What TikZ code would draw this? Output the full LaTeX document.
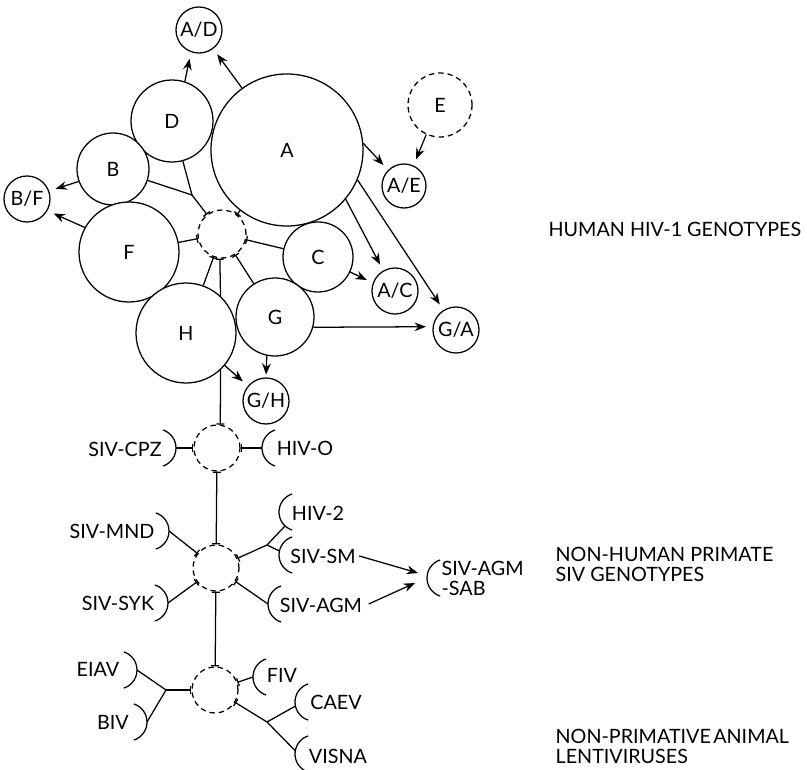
\documentclass[tikz,border=0pt]{standalone}
\usepackage{fontspec}
\setmainfont{Lato}
\usetikzlibrary{arrows.meta,calc}
\newcommand\rarc[1]{\draw (#1) arc[start angle=0,end angle=72,radius=14.25pt] (#1) arc[start angle=0,end angle=-72,radius=14.25pt];}
\newcommand\larc[1]{\draw (#1) arc[start angle=180,end angle=108,radius=14.25pt] (#1) arc[start angle=180,end angle=252,radius=14.25pt];}
\begin{document}
\begin{tikzpicture}[x=0.75pt,y=-0.75pt,line width=0.95pt,
  every node/.style={font=\fontsize{14.8}{15}\selectfont},
  circ/.style={circle,draw,fill=white,inner sep=0pt,minimum size=#1*1.5pt},
  dcirc/.style={circle,draw,dash pattern=on 4pt off 3pt,inner sep=0pt,minimum size=#1*1.5pt},
  arr/.style={-{Stealth[length=8.5pt,width=6.5pt]},shorten >=5pt},
  tk/.style={-{Bar[width=6pt]}},
  kt/.style={{Bar[width=6pt]}-},
  tkk/.style={{Bar[width=6pt]}-{Bar[width=6pt]}},
  lbl/.style={inner sep=0pt}]
\fill[white] (0,0) rectangle (807,770);
\useasboundingbox (0,0) rectangle (807,770);

% ---------- human HIV-1 cluster ----------
\node[circ=23] (AD) at (199,30) {A/D};
\node[circ=41] (D) at (172,121) {D};
\node[circ=76] (A) at (287,150) {A};
\node[dcirc=32] (E) at (440,105) {E};
\node[circ=22] (AE) at (404,186) {A/E};
\node[circ=36] (B) at (113,169) {B};
\node[circ=23] (BF) at (27,199) {B/F};
\node[circ=50] (F) at (129,252) {F};
\node[dcirc=24] (cen) at (222,234) {};
\node[circ=35] (C) at (318,257) {C};
\node[circ=23] (AC) at (395,291) {A/C};
\node[circ=39] (G) at (275,317) {G};
\node[circ=50] (H) at (186,333) {H};
\node[circ=23] (GH) at (266,401) {G/H};
\node[circ=23] (GA) at (456,330) {G/A};

\coordinate (jBD) at (192,195);
\draw (B) -- (jBD);
\draw (D) -- (jBD);
\draw[tk] (jBD) -- (cen);
\draw[tk] (F) -- (cen);
\draw[tk] (C) -- (cen);
\draw[tk] (A) -- (cen);
\draw[tk] (G) -- (cen);
\draw[tk] (H) -- (cen);
\draw[kt] (cen.-95) -- (H.47);

% arrows
\draw[arr] (D.72) -- (AD.-110);
\draw[arr] (A.126) -- (AD.-53);
\draw[arr] (A.5) -- (AE.135);
\draw[arr] (E.245) -- (AE.65);
\draw[arr] (A.-40) -- (AC.120);
\draw[arr] (A.-23) -- (GA.122);
\draw[arr] (C.-25) -- (AC.160);
\draw[arr] (G.-15) -- (GA.172);
\draw[arr,shorten >=2pt] (G.-102) -- (GH.north);
\draw[arr] (H.-40) -- (GH.140);
\draw[arr] (B.200) -- (BF.20);
\draw[arr] (F.151) -- (BF.-30);

% ---------- chimpanzee level ----------
\node[dcirc=23] (cpz) at (217,448) {};
\draw[tk] (H.-47) -- (cpz.82);
\node[lbl] (cpzL) at (125,449) {SIV-CPZ};
\coordinate (cpzT) at (176,448);
\rarc{cpzT}
\draw[tk] (cpzT) -- (cpz);
\node[lbl] (hoL) at (305,448) {HIV-O};
\coordinate (hoT) at (262,448);
\larc{hoT}
\draw[kt] (cpz) -- (hoT);

% ---------- primate level ----------
\node[dcirc=23] (prim) at (216,568) {};
\draw[tkk] (cpz) -- (prim);
\node[lbl] (mndL) at (112,531) {SIV-MND};
\coordinate (mndT) at (169,531);
\rarc{mndT}
\draw[tk] (mndT) -- (prim);
\node[lbl] (sykL) at (118,603) {SIV-SYK};
\coordinate (sykT) at (168,603);
\rarc{sykT}
\draw[tk] (sykT) -- (prim);
\coordinate (J1) at (267,545);
\draw[kt] (prim) -- (J1);
\node[lbl] (h2L) at (318,513) {HIV-2};
\coordinate (h2T) at (279,512);
\larc{h2T}
\coordinate (h2P) at (285,526);
\draw (J1) -- (h2P);
\node[lbl] (smL) at (323,556) {SIV-SM};
\coordinate (smT) at (279,555);
\larc{smT}
\coordinate (smP) at (279.5,551);
\draw (J1) -- (smP);
\node[lbl] (agmL) at (321,605) {SIV-AGM};
\coordinate (agmT) at (268,604);
\larc{agmT}
\draw[kt] (prim) -- (agmT);
\node[lbl,align=left,anchor=west] (sabL) at (441,578) {SIV-AGM\\-SAB};
\coordinate (sabT) at (427,578);
\larc{sabT}
\coordinate (sab1) at (418,573);
\coordinate (sab2) at (415,583);
\draw[-{Stealth[length=8.5pt,width=6.5pt]}] (smL.east) ++(3,0) coordinate (smE) (smE) -- (sab1);
\draw[-{Stealth[length=8.5pt,width=6.5pt]}] (agmL.east) ++(6,-1) coordinate (agmE) (agmE) -- (sab2);

% ---------- lentivirus level ----------
\node[dcirc=23] (lenti) at (215,690) {};
\draw[tkk] (prim) -- (lenti);
\node[lbl] (eL) at (98,669) {EIAV};
\coordinate (eT) at (137,670);
\rarc{eT}
\node[lbl] (bL) at (113,722) {BIV};
\coordinate (bT) at (147,722);
\rarc{bT}
\coordinate (J2) at (166,690);
\draw (eT) -- (J2);
\draw (bT) -- (J2);
\draw[tk] (J2) -- (lenti);
\node[lbl] (fL) at (282,675) {FIV};
\coordinate (fT) at (253,677);
\larc{fT}
\draw[kt] (lenti) -- (fT);
\coordinate (J3) at (267,722);
\draw[kt] (lenti) -- (J3);
\node[lbl] (cL) at (336,702) {CAEV};
\coordinate (cT) at (295,702);
\larc{cT}
\coordinate (cP) at (295.5,706);
\draw (J3) -- (cP);
\node[lbl] (vL) at (338,756) {VISNA};
\coordinate (vT) at (295,754);
\larc{vT}
\coordinate (vP) at (295.5,751);
\draw (J3) -- (vP);

% ---------- group labels ----------
\node[lbl,anchor=west] (g1) at (548,229) {HUMAN HIV-1 GENOTYPES};
\node[lbl,anchor=west,align=left] (g2) at (555,564) {NON-HUMAN PRIMATE\\SIV GENOTYPES};
\node[lbl,anchor=west,align=left] (g3) at (555,746) {NON-PRIMATIVE\hspace{0.12em}ANIMAL\\LENTIVIRUSES};
\end{tikzpicture}
\end{document}
